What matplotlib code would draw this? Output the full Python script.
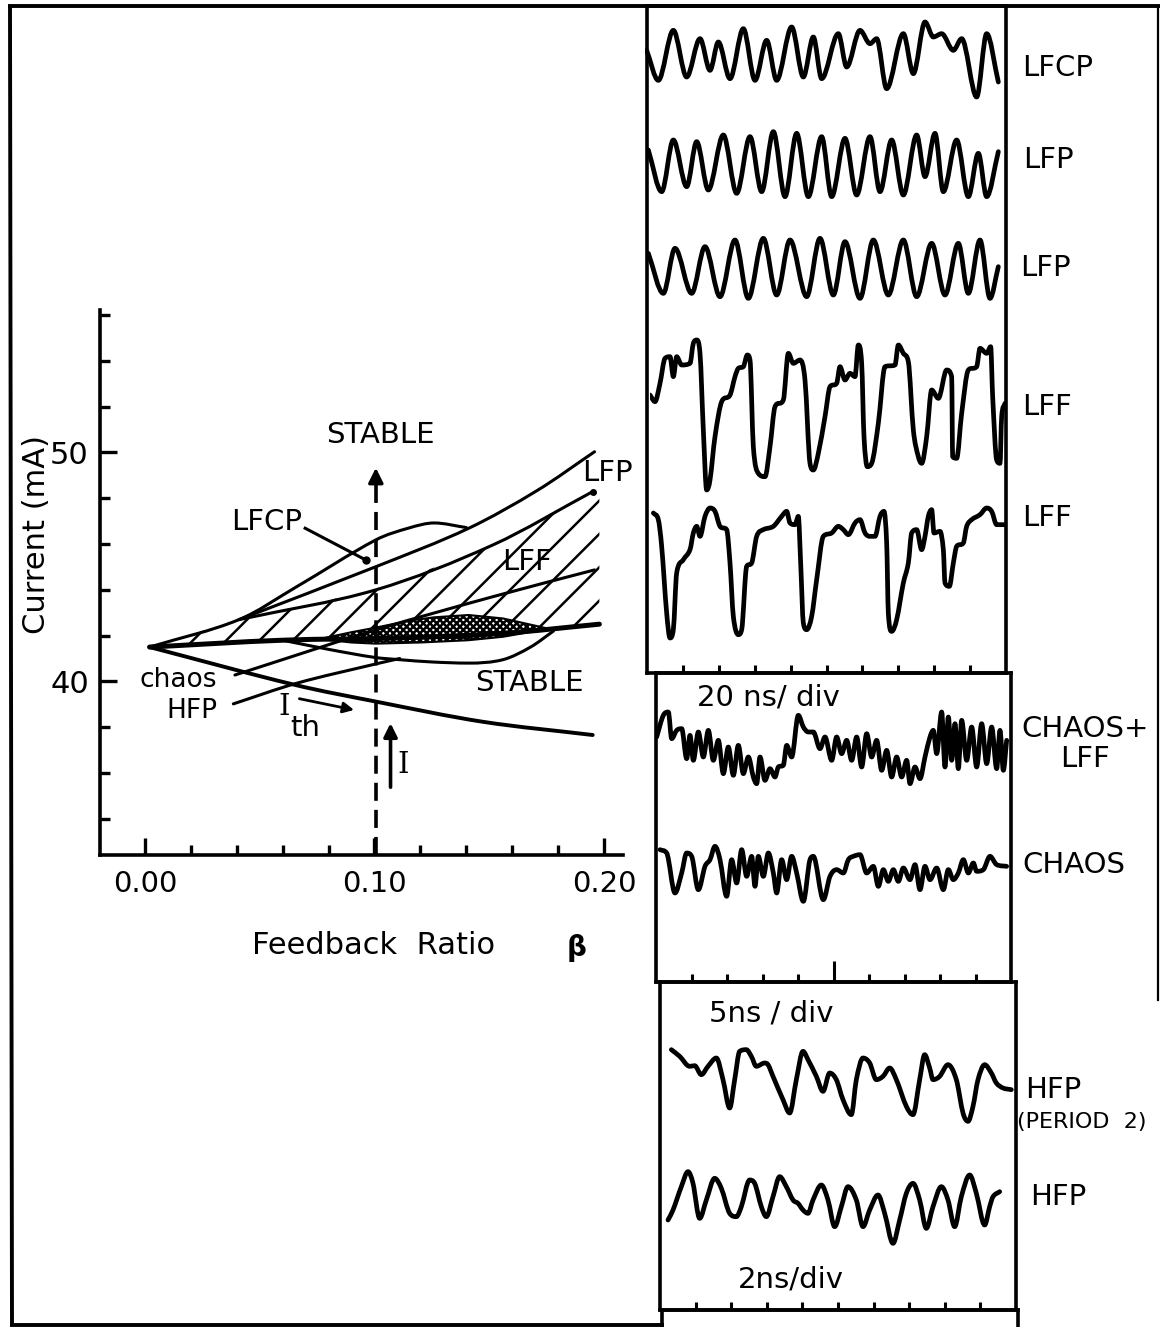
import matplotlib
matplotlib.use("Agg")
import matplotlib.pyplot as plt
from matplotlib.patches import Polygon, PathPatch
from matplotlib.path import Path

plt.rcParams['font.family'] = ['DejaVu Sans']
plt.rcParams['hatch.linewidth'] = 1.8

W, H = 1162, 1327

# ---------------- phase diagram: boundaries (beta, current in mA) ----------------
dome_b = [0.002, 0.041, 0.066, 0.1006, 0.115, 0.126, 0.14]
dome_i = [41.5, 42.7, 44.13, 46.18, 46.7, 46.92, 46.72]

lfp_b = [0.041, 0.1006, 0.1411, 0.1711, 0.1959]
lfp_i = [42.7, 45.01, 46.69, 48.35, 50.03]

lff_top_b = [0.041, 0.1006, 0.1516, 0.1951]
lff_top_i = [42.7, 44.0, 45.96, 48.29]

lff_low_b = [0.002, 0.06, 0.111, 0.156, 0.198]
lff_low_i = [41.5, 41.8, 41.9, 42.1, 42.5]

chaos_b = [0.0392, 0.1006, 0.1516, 0.1959]
chaos_i = [40.28, 42.25, 43.70, 44.87]

hfp_b = [0.0385, 0.0661, 0.1, 0.111]
hfp_i = [39.02, 39.92, 40.75, 41.0]

stable_low_b = [0.06, 0.08, 0.1, 0.111, 0.125, 0.141, 0.156, 0.168, 0.178]
stable_low_i = [41.8, 41.4, 41.05, 40.95, 40.85, 40.8, 40.95, 41.5, 42.2]

lens_b = [0.076, 0.09, 0.1006, 0.115, 0.126, 0.141, 0.156, 0.176,
          0.156, 0.141, 0.12, 0.1006, 0.09]
lens_i = [41.85, 42.15, 42.35, 42.65, 42.8, 42.9, 42.75, 42.3,
          41.95, 41.8, 41.7, 41.65, 41.7]

ith_b = [0.002, 0.0653, 0.1006, 0.1471, 0.1951]
ith_i = [41.5, 39.85, 39.12, 38.24, 37.66]

beta_scan = 0.1006

# ---------------- oscilloscope traces (sweep units, signal units) ----------------
lfcp_t = [5, 40, 85, 125, 165, 195, 220, 255, 295, 330, 365, 395, 440, 475, 505, 530,
          580, 605, 645, 675, 695, 725, 775, 805, 840, 865, 890, 925, 950, 995, 1025, 1060]
lfcp_v = [20, -70, 80, -60, 55, -40, 45, -65, 85, -70, 50, -70, 90, -60, 60, -65,
          70, -30, 80, 40, 55, -95, 70, -50, 105, 60, 70, 20, 55, -120, 70, -75]

lfp1_t = [10, 50, 85, 125, 155, 190, 235, 275, 315, 350, 385, 420, 455, 490, 530, 560,
          600, 635, 675, 705, 740, 775, 815, 840, 870, 895, 935, 970, 1000, 1025, 1060]
lfp1_v = [45, -80, 75, -65, 70, -75, 90, -85, 85, -80, 100, -95, 95, -95, 85, -95,
          80, -90, 85, -80, 75, -90, 90, -35, 95, -80, 75, -95, 35, -95, 40]

lfp2_t = [10, 55, 90, 140, 180, 225, 270, 310, 355, 395, 435, 485, 525, 565, 600, 645,
          685, 730, 775, 815, 860, 900, 940, 970, 1005, 1035, 1060]
lfp2_v = [50, -70, 65, -70, 70, -80, 90, -85, 95, -75, 90, -80, 95, -75, 85, -85,
          90, -75, 90, -80, 80, -75, 80, -70, 90, -85, 10]

lff1_t = [0, 15, 30, 45, 60, 70, 80, 95, 120, 130, 140, 150, 160, 170, 180, 195, 215, 240,
          255, 265, 280, 292, 300, 310, 325, 345, 360, 375, 400, 415, 430, 450, 465, 480,
          490, 505, 525, 540, 560, 570, 585, 600, 615, 625, 635, 642, 652, 665, 685, 705,
          735, 745, 760, 775, 790, 805, 815, 830, 845, 865, 890, 905, 908, 920, 935, 955,
          980, 990, 1010, 1022, 1028, 1040, 1050, 1055, 1065]
lff1_v = [75, 55, 110, 185, 190, 130, 190, 165, 170, 230, 240, 200, -30, -210, -180, -50,
          55, 75, 130, 155, 160, 195, 180, -80, -160, -170, -80, 40, 60, 200, 170, 180,
          120, -130, -150, -100, 10, 100, 110, 160, 120, 140, 130, 225, 170, -50, -140,
          -130, -10, 160, 165, 225, 200, 175, -30, -110, -130, -50, 90, 65, 150, 130,
          -110, -115, 20, 150, 160, 215, 200, 220, 70, -120, -130, 10, 50]

lff2_t = [10, 25, 35, 50, 60, 70, 80, 100, 120, 130, 140, 150, 165, 180, 195, 210, 230,
          240, 250, 265, 275, 290, 305, 320, 340, 370, 395, 410, 420, 435, 445, 452, 460,
          470, 485, 500, 520, 545, 565, 580, 595, 615, 630, 645, 660, 675, 690, 702, 710,
          715, 725, 740, 760, 775, 785, 800, 815, 825, 835, 845, 852, 870, 880, 885, 898,
          910, 920, 940, 950, 965, 990, 1010, 1025, 1040, 1070]
lff2_v = [180, 160, 80, -120, -195, -170, 0, 40, 70, 120, 140, 110, 170, 195, 185, 140,
          130, 30, -130, -185, -170, 20, 30, 110, 130, 140, 170, 185, 150, 145, 170, 30,
          -150, -170, -130, -20, 110, 120, 140, 130, 115, 150, 160, 120, 110, 110, 170,
          185, 90, -120, -175, -140, -30, 30, 120, 130, 70, 110, 170, 190, 120, 125, 70,
          -30, -40, 30, 80, 90, 140, 160, 175, 195, 185, 145, 145]

chlff_t = [5, 25, 40, 50, 65, 80, 95, 105, 115, 130, 145, 160, 175, 190, 205, 220, 235,
           250, 265, 280, 295, 305, 315, 330, 345, 360, 370, 385, 395, 410, 430, 445, 460,
           475, 495, 510, 530, 545, 560, 575, 590, 605, 620, 635, 650, 665, 680, 695, 710,
           725, 740, 755, 765, 780, 795, 810, 825, 835, 845, 860, 870, 880, 890, 900, 910,
           920, 935, 950, 965, 980, 995, 1010, 1025, 1035, 1045, 1055]
chlff_v = [30, 95, 105, 25, 50, 55, -35, 35, -40, 45, -30, 50, -40, 20, -80, 0, -85, 5,
           -80, -30, -90, -110, -30, -100, -65, -90, -60, -55, 5, -30, 95, 60, 45, 45, -5,
           30, -40, 30, -20, 20, -40, 30, -60, 40, -30, 20, -70, -10, -90, -30, -90, -40,
           -110, -60, -95, -30, 30, 50, -20, 105, -60, 90, -40, 70, -65, 80, -40, 60, -60,
           70, -50, 60, -65, 50, -70, 20]

chaos_t = [15, 35, 60, 80, 95, 110, 130, 150, 165, 180, 195, 215, 230, 245, 260, 275,
           290, 300, 310, 325, 340, 355, 365, 380, 395, 410, 425, 445, 465, 475, 505, 525,
           545, 565, 580, 595, 615, 635, 655, 670, 685, 700, 715, 730, 745, 765, 780, 795,
           810, 825, 845, 865, 880, 895, 910, 925, 940, 955, 965, 985, 1005, 1025, 1055]
chaos_v = [70, 60, -60, 0, 60, 50, -50, 20, 40, 80, 40, -70, 40, -30, 70, -10, 50, -40,
           50, -10, 60, 0, -60, 40, -20, 50, 0, -85, 40, 50, -80, -10, 10, 0, 40, 50, 55,
           0, 20, -40, 10, -25, 10, -25, 15, -20, 25, -50, 20, -20, 15, -50, 10, -20, 0,
           40, 0, 30, 5, 10, 50, 25, 20]

hfp2_t = [40, 65, 95, 110, 130, 150, 175, 195, 215, 230, 245, 265, 280, 295, 320, 330,
          345, 375, 395, 415, 435, 450, 475, 495, 515, 535, 555, 580, 595, 615, 635, 655,
          675, 695, 715, 745, 765, 785, 800, 815, 825, 845, 870, 895, 915, 930, 945, 960,
          980, 1000, 1015, 1035, 1060]
hfp2_v = [100, 80, 50, 52, 25, 50, 75, 10, -75, 10, 95, 100, 80, 50, 60, 55, 20, -50,
          -90, 10, 95, 70, 20, -25, 30, 10, -50, -95, 10, 75, 60, 10, 20, 45, 10, -70,
          -95, 10, 85, 45, 10, 20, 55, 10, -90, -115, -70, 10, 55, 30, 0, -15, -20]

hfp_t = [30, 45, 70, 90, 105, 125, 145, 170, 190, 215, 235, 250, 275, 290, 310, 325,
         345, 365, 385, 405, 420, 435, 450, 465, 490, 510, 530, 550, 570, 595, 615, 635,
         660, 680, 705, 725, 745, 765, 785, 805, 825, 850, 870, 890, 910, 935, 955, 980,
         995, 1005, 1025]
hfp_v = [-60, -30, 40, 85, 50, -55, 0, 65, 35, -40, -50, -20, 60, 50, -20, -50, 10, 70,
         40, 0, -10, -30, -40, 0, 45, 0, -80, -20, 40, 0, -80, -30, 15, -40, -130, -60,
         20, 50, 0, -85, -20, 40, 0, -80, 10, 75, 20, -75, -20, 10, 25]


def smooth_path(t, v):
    # cubic Bezier path through the read points (flat tangents at turning points)
    n = len(t)
    m = []
    for i in range(n):
        if i == 0:
            m.append((v[1] - v[0]) / (t[1] - t[0]))
        elif i == n - 1:
            m.append((v[-1] - v[-2]) / (t[-1] - t[-2]))
        else:
            s0 = (v[i] - v[i - 1]) / (t[i] - t[i - 1])
            s1 = (v[i + 1] - v[i]) / (t[i + 1] - t[i])
            if s0 * s1 <= 0:
                m.append(0.0)
            else:
                sl = (v[i + 1] - v[i - 1]) / (t[i + 1] - t[i - 1])
                lim = 3 * min(abs(s0), abs(s1))
                m.append(max(-lim, min(lim, sl)))
    verts = [(t[0], v[0])]
    codes = [Path.MOVETO]
    for i in range(n - 1):
        dt = t[i + 1] - t[i]
        verts += [(t[i] + dt / 3, v[i] + m[i] * dt / 3),
                  (t[i + 1] - dt / 3, v[i + 1] - m[i + 1] * dt / 3),
                  (t[i + 1], v[i + 1])]
        codes += [Path.CURVE4] * 3
    return Path(verts, codes)


def curve(a, t, v, lw):
    a.add_patch(PathPatch(smooth_path(t, v), fill=False, edgecolor='k', lw=lw,
                          capstyle='round', joinstyle='round'))


fig = plt.figure(figsize=(W / 100, H / 100), dpi=100)

# background canvas in pixel units for the outer frame and labels
bg = fig.add_axes([0, 0, 1, 1])
bg.set_xlim(0, W)
bg.set_ylim(H, 0)
bg.axis('off')
frame_kw = dict(color='k', lw=2.8, solid_capstyle='butt')
bg.plot([8, 1160], [6, 6], **frame_kw)
bg.plot([10, 12], [6, 1326], **frame_kw)
bg.plot([10, 664], [1325, 1325], **frame_kw)
bg.plot([1158, 1158], [6, 1000], lw=1.6, color='k')

# ---------------- left: phase diagram ----------------
ax = fig.add_axes([100 / W, 1 - 855 / H, 523 / W, 545 / H])
ax.patch.set_alpha(0)
ax.set_xlim(-0.0196, 0.2083)
ax.set_ylim(32.42, 56.22)
for s in ['top', 'right']:
    ax.spines[s].set_visible(False)
for s in ['left', 'bottom']:
    ax.spines[s].set_linewidth(2.6)
ax.set_xticks([0.0, 0.1, 0.2])
ax.set_xticklabels(['0.00', '0.10', '0.20'])
ax.set_xticks([0.02, 0.04, 0.06, 0.08, 0.12, 0.14, 0.16, 0.18], minor=True)
ax.set_yticks([40, 50])
ax.set_yticklabels(['40', '50'])
ax.set_yticks([34, 36, 38, 42, 44, 46, 48, 52, 54, 56], minor=True)
ax.tick_params(which='major', direction='in', length=12, width=2.4)
ax.tick_params(axis='x', which='major', pad=11, labelsize=21)
ax.tick_params(axis='y', which='major', pad=8, labelsize=22)
ax.tick_params(which='minor', direction='in', length=7, width=2.4)

# hatched LFF region
lff_poly = list(zip(lff_low_b, lff_low_i))[::-1] + [(0.041, 42.7)] + \
    list(zip(lff_top_b[1:], lff_top_i[1:])) + [(0.198, 48.45)]
ax.add_patch(Polygon(lff_poly, closed=True, fill=False, hatch='/', edgecolor='k', lw=0))
# cross-hatched chaos lens
ax.add_patch(Polygon(list(zip(lens_b, lens_i)), closed=True, facecolor='white',
                     hatch='xxxxx', edgecolor='k', lw=1.5))

curve(ax, dome_b, dome_i, 2.2)
curve(ax, lfp_b, lfp_i, 2.2)
curve(ax, lff_top_b, lff_top_i, 2.2)
curve(ax, lff_low_b, lff_low_i, 3.6)
curve(ax, chaos_b, chaos_i, 2.2)
curve(ax, hfp_b, hfp_i, 2.2)
curve(ax, stable_low_b, stable_low_i, 2.2)
curve(ax, ith_b, ith_i, 2.8)
ax.plot([lff_top_b[-1]], [lff_top_i[-1]], 'ko', ms=4)

# dashed scan line with arrow
ax.plot([beta_scan, beta_scan], [32.42, 48.8], color='k', lw=2.6, dashes=(5, 2.5))
ax.annotate('', xy=(beta_scan, 49.45), xytext=(beta_scan, 48.6),
            arrowprops=dict(arrowstyle='-|>', color='k', lw=2.4, mutation_scale=22))
# I_th arrow and I arrow
ax.annotate('', xy=(0.0923, 38.73), xytext=(0.0661, 39.27),
            arrowprops=dict(arrowstyle='-|>', color='k', lw=2.0, mutation_scale=16))
ax.annotate('', xy=(0.107, 38.3), xytext=(0.107, 35.26),
            arrowprops=dict(arrowstyle='-|>', color='k', lw=2.6, mutation_scale=20))
# LFCP leader
ax.plot([0.0698, 0.0961], [46.69, 45.31], color='k', lw=2.2)
ax.plot([0.0961], [45.31], 'ko', ms=5)

tkw = dict(fontsize=21, color='k', ha='center', va='center')
ax.text(0.1027, 50.76, 'STABLE', **tkw)
ax.text(0.0529, 46.97, 'LFCP', **tkw)
ax.text(0.1906, 49.1, 'LFP', fontsize=21, ha='left', va='center')
ax.text(0.1666, 45.22, 'LFF', **tkw)
ax.text(0.1673, 39.93, 'STABLE', **tkw)
ax.text(0.0145, 40.05, 'chaos', fontsize=19, ha='center', va='center')
ax.text(0.0205, 38.72, 'HFP', fontsize=19, ha='center', va='center')
ax.text(0.0608, 38.89, 'I', fontsize=21, family='DejaVu Serif', ha='center', va='center')
ax.text(0.0697, 37.97, 'th', **tkw)
ax.text(0.1126, 36.35, 'I', fontsize=21, family='DejaVu Serif', ha='center', va='center')

bg.text(37, 535, 'Current (mA)', fontsize=22, rotation=90, ha='center', va='center')
bg.text(373, 945, 'Feedback  Ratio', fontsize=22, ha='center', va='center')
bg.text(577, 948, 'β', fontsize=20, fontweight='bold', ha='center', va='center')


# ---------------- right: oscilloscope boxes ----------------
def scope_box(x0, x1, y0, y1, ticks=True, long_tick=None):
    a = fig.add_axes([x0 / W, 1 - y1 / H, (x1 - x0) / W, (y1 - y0) / H])
    a.patch.set_alpha(0)
    a.set_xlim(0, 10)
    a.set_ylim(0, 1)
    a.set_yticks([])
    for sp in a.spines.values():
        sp.set_linewidth(2.6)
    if ticks:
        a.set_xticks(range(1, 10))
        a.tick_params(axis='x', direction='in', length=6, width=2.2, labelbottom=False)
        if long_tick is not None:
            a.xaxis.get_major_ticks()[long_tick - 1].tick1line.set_markersize(15)
    else:
        a.set_xticks([])
    return a


scope_box(647, 1006, 6, 673)
scope_box(656, 1011, 673, 982, long_tick=5)
scope_box(660, 1016, 982, 1310)
scope_box(662, 1018, 1310, 1360, ticks=False)


def trace(t, v, x_left, y_center):
    a = fig.add_axes([x_left / W, 1 - (y_center + 100) / H, (1070 / 3) / W, 200 / H])
    a.set_xlim(0, 1070)
    a.set_ylim(-300, 300)
    a.axis('off')
    curve(a, t, v, 3.4)


trace(lfcp_t, lfcp_v, 645, 57)
trace(lfp1_t, lfp1_v, 645, 165)
trace(lfp2_t, lfp2_v, 645, 270)
trace(lff1_t, lff1_v, 650, 420)
trace(lff2_t, lff2_v, 650, 573)
trace(chlff_t, chlff_v, 655, 747)
trace(chaos_t, chaos_v, 655, 873)
trace(hfp2_t, hfp2_v, 658, 1083)
trace(hfp_t, hfp_v, 658, 1200)

lab = dict(fontsize=21, ha='left', va='center')
bg.text(1022, 68, 'LFCP', **lab)
bg.text(1023, 160, 'LFP', **lab)
bg.text(1020, 268, 'LFP', **lab)
bg.text(1022, 407, 'LFF', **lab)
bg.text(1022, 518, 'LFF', **lab)
bg.text(1085, 744, 'CHAOS+\nLFF', fontsize=21, ha='center', va='center', linespacing=1.05)
bg.text(1022, 865, 'CHAOS', **lab)
bg.text(1025, 1090, 'HFP', **lab)
bg.text(1017, 1122, '(PERIOD  2)', fontsize=16, ha='left', va='center')
bg.text(1030, 1197, 'HFP', **lab)
bg.text(768, 698, '20 ns/ div', fontsize=21, ha='center', va='center')
bg.text(771, 1013, '5ns / div', fontsize=21, ha='center', va='center')
bg.text(791, 1280, '2ns/div', fontsize=21, ha='center', va='center')

fig.savefig('out.png', dpi=100)
